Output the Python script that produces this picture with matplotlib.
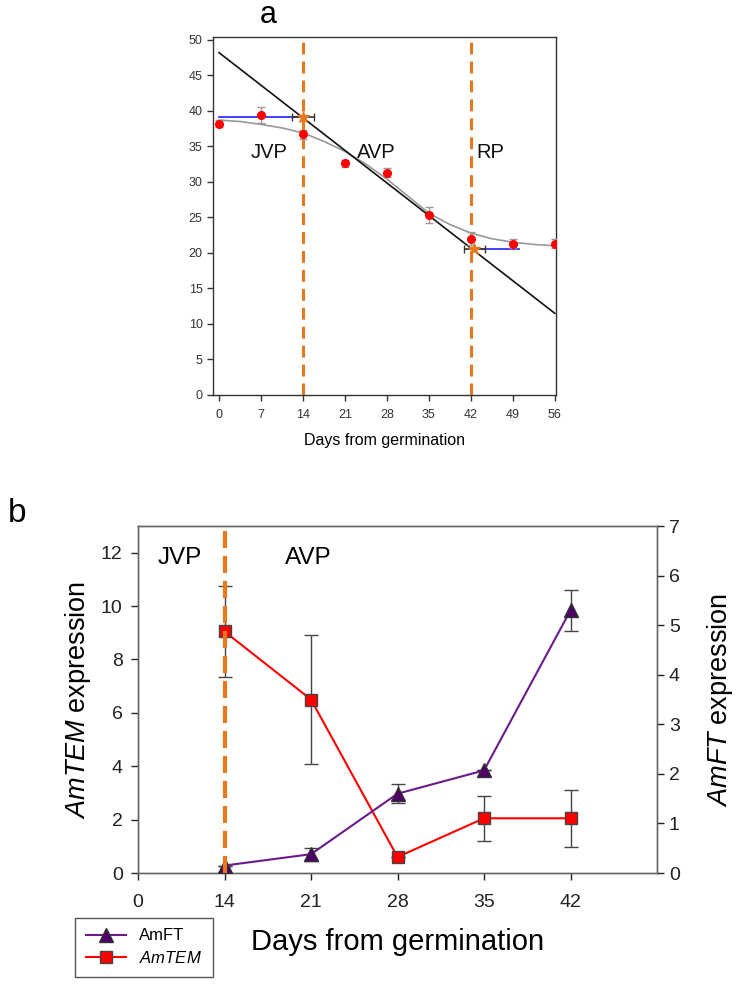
import matplotlib

matplotlib.use("Agg")
import matplotlib.pyplot as plt
from matplotlib.lines import Line2D

plt.rcParams["font.family"] = ["Liberation Sans", "DejaVu Sans"]
plt.rcParams["mathtext.fontset"] = "custom"
plt.rcParams["mathtext.rm"] = "Liberation Sans"
plt.rcParams["mathtext.it"] = "Liberation Sans:italic"

ORANGE = "#E8781E"

# ---- panel a: leaf size vs days from germination ----
days_a = [0, 7, 14, 21, 28, 35, 42, 49, 56]
mean_a = [38.2, 39.4, 36.7, 32.6, 31.3, 25.3, 22.0, 21.3, 21.3]
err_a = [0.5, 1.1, 0.6, 0.5, 0.6, 1.1, 0.9, 0.6, 0.6]

# fitted smooth curve (grey)
fit_x = [0, 3.5, 7, 10.5, 14, 17.5, 21, 24.5, 28, 31.5, 35, 38.5, 42, 45.5, 49, 52.5, 56]
fit_y = [38.7, 38.5, 38.1, 37.6, 36.9, 35.7, 34.3, 32.5, 30.4, 28.0, 25.6, 24.0,
         22.8, 22.0, 21.5, 21.2, 21.0]

# linear regression line (black)
lin_x = [0, 56]
lin_y = [48.2, 11.5]

# plateau lines (blue)
plat1_x = [0, 14]
plat1_y = [39.1, 39.1]
plat2_x = [42, 50]
plat2_y = [20.5, 20.5]

# breakpoints (orange stars) with x error
brk_x = [14.0, 42.6]
brk_y = [39.1, 20.5]
brk_xerr = [1.9, 1.8]

phase_a = [("JVP", 8.4), ("AVP", 26.3), ("RP", 45.3)]
phase_lines_a = [14, 42]

# ---- panel b: gene expression ----
days_b_labels = ["0", "14", "21", "28", "35", "42"]
pos_b = [1, 2, 3, 4, 5]  # days 14..42 on the categorical axis
amtem = [9.05, 6.5, 0.6, 2.05, 2.05]
amtem_err = [1.7, 2.4, 0.0, 0.85, 1.07]
amft = [0.15, 0.38, 1.6, 2.07, 5.3]
amft_err = [0.0, 0.13, 0.19, 0.0, 0.41]

fig = plt.figure(figsize=(7.36, 9.84), dpi=100)

# panel a
ax = fig.add_axes([0.2894, 0.5986, 0.4660, 0.3638])
ax.errorbar(days_a, mean_a, yerr=err_a, fmt="o", color="red", ms=5.5,
            ecolor="#999999", elinewidth=1, capsize=3, zorder=4)
ax.plot(fit_x, fit_y, color="#999999", lw=1.2, zorder=3)
ax.plot(lin_x, lin_y, color="#111111", lw=1.2, zorder=3)
ax.plot(plat1_x, plat1_y, color="#3333FF", lw=1.3, zorder=3)
ax.plot(plat2_x, plat2_y, color="#3333FF", lw=1.3, zorder=3)
for xv in phase_lines_a:
    ax.plot([xv, xv], [0, 49.7], color=ORANGE, lw=2.2, dashes=(3.9, 2.3), zorder=2)
ax.errorbar(brk_x, brk_y, xerr=brk_xerr, fmt="*", color=ORANGE, ms=9,
            ecolor="#333333", elinewidth=1.2, capsize=3, zorder=5)
for label, xt in phase_a:
    ax.text(xt, 34.1, label, fontsize=14.5, ha="center", va="center", color="#111111")
ax.set_xlim(-1, 56.2)
ax.set_ylim(0, 50.4)
ax.set_xticks(range(0, 57, 7))
ax.set_yticks(range(0, 51, 5))
ax.tick_params(labelsize=9, colors="#333333", length=4, width=1)
ax.tick_params(axis="x", pad=6)
for s in ax.spines.values():
    s.set_color("#333333")
    s.set_linewidth(1)
ax.set_xlabel("Days from germination", fontsize=11.5, labelpad=9)
fig.text(268 / 736, 1 - 15 / 984, "a", fontsize=22, ha="center", va="center")

# panel b
axb = fig.add_axes([0.1875, 0.1128, 0.7052, 0.3526])
axr = axb.twinx()
axb.errorbar(pos_b, amtem, yerr=amtem_err, color="red", lw=1.5, marker="s", ms=9,
             mfc="red", mec="#444444", mew=1, ecolor="#444444", elinewidth=1,
             capsize=5, zorder=3)
axr.errorbar(pos_b, amft, yerr=amft_err, color="#6A1B8A", lw=1.5, marker="^", ms=10,
             mfc="#4E0066", mec="#333333", mew=1, ecolor="#444444", elinewidth=1,
             capsize=5, zorder=3)
axr.plot([1, 1], [0, 12.8 * 7 / 13], color=ORANGE, lw=3, dashes=(4.1, 1.9), zorder=6)
axb.text(0.48, 11.8, "JVP", fontsize=17.5, ha="center", va="center")
axb.text(1.97, 11.8, "AVP", fontsize=17.5, ha="center", va="center")
axb.set_xlim(0, 6)
axb.set_xticks(range(len(days_b_labels)))
axb.set_xticklabels(days_b_labels)
axb.set_ylim(0, 13)
axb.set_yticks(range(0, 13, 2))
axr.set_ylim(0, 7)
axr.set_yticks(range(0, 8))
for a in (axb, axr):
    a.tick_params(labelsize=14, colors="#222222", length=5, width=1)
    for s in a.spines.values():
        s.set_color("#666666")
        s.set_linewidth(1)
axb.tick_params(axis="x", pad=10)
axb.tick_params(axis="y", pad=6)
axb.set_ylabel(r"$\it{AmTEM}$ expression", fontsize=19.5, labelpad=6)
axr.set_ylabel(r"$\it{AmFT}$ expression", fontsize=19.5, labelpad=18)
axb.set_xlabel("Days from germination", fontsize=21, labelpad=12)

handles = [
    Line2D([], [], color="#6A1B8A", lw=1.5, marker="^", ms=10, mfc="#4E0066", mec="#333333"),
    Line2D([], [], color="red", lw=1.5, marker="s", ms=9, mfc="red", mec="#444444"),
]
leg = fig.legend(handles, ["AmFT", r"$\it{AmTEM}$"], loc="lower left",
                 bbox_to_anchor=(75 / 736, 1 - 977 / 984), fontsize=12,
                 fancybox=False, edgecolor="#555555", framealpha=1,
                 handlelength=2.4, borderpad=0.65, labelspacing=0.4,
                 borderaxespad=0)
leg.get_frame().set_linewidth(1)
fig.text(17 / 736, 1 - 513 / 984, "b", fontsize=24, ha="center", va="center")

fig.savefig("out.png", dpi=100)
